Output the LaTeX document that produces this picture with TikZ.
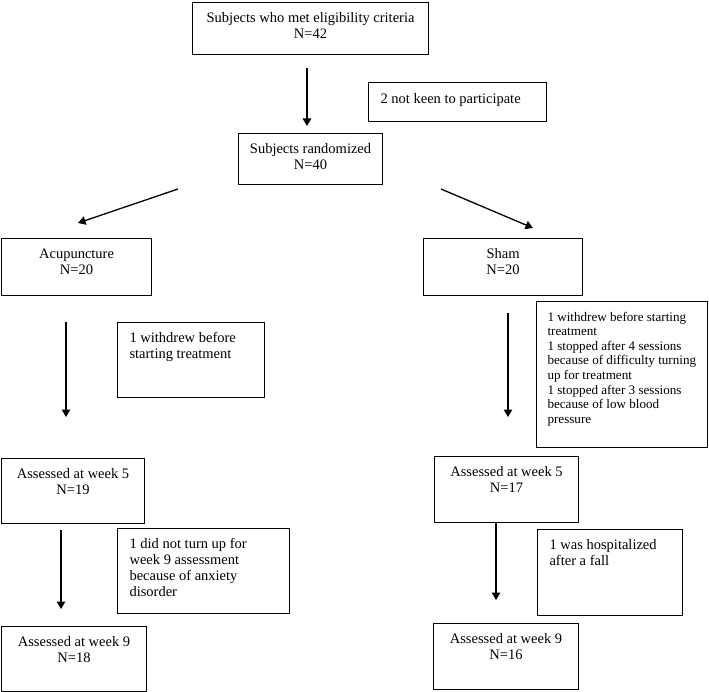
\documentclass[tikz,border=0pt]{standalone}
\usepackage{fontspec}
\setmainfont{Liberation Serif}
\usetikzlibrary{arrows.meta}
\tikzset{
  flowbox/.style={draw=black, line width=1.1pt, inner sep=0pt, anchor=north west},
  arr/.style={line width=1.3pt, -{Triangle[length=7.5pt,width=8.5pt]}},
}
% centred text, top aligned: width, height, text
\newcommand{\ctext}[3]{\parbox[c][#2][t]{#1}{\centering\fontsize{14.5}{16.8}\selectfont\rule{0pt}{19.5pt}#3}}
% left text, top aligned: width, height, first baseline, text
\newcommand{\ltext}[4]{\parbox[c][#2][t]{#1}{\raggedright\leftskip=12pt\fontsize{14.5}{16.3}\selectfont\rule{0pt}{#3}#4}}
\newcommand{\stext}[4]{\parbox[c][#2][t]{#1}{\raggedright\leftskip=11pt\fontsize{13.1}{14.6}\selectfont\rule{0pt}{#3}#4}}
\begin{document}
\begin{tikzpicture}[x=1pt,y=-1pt]
\useasboundingbox (0,0) rectangle (709,692);
% main boxes
\node[flowbox] (top) at (192,2) {\ctext{236pt}{52pt}{Subjects who met eligibility criteria\\N=42}};
\node[flowbox] (notkeen) at (368,82) {\ltext{178pt}{39pt}{20.5pt}{2 not keen to participate}};
\node[flowbox] (rand) at (238,133) {\ctext{144pt}{51pt}{Subjects randomized\\N=40}};
\node[flowbox] (acu) at (1,238) {\ctext{150pt}{57pt}{Acupuncture\\N=20}};
\node[flowbox] (sham) at (423,238) {\ctext{159pt}{57pt}{Sham\\N=20}};
\node[flowbox] (acuside) at (117,322) {\ltext{147pt}{75pt}{19.5pt}{1 withdrew before\\starting treatment}};
\node[flowbox] (shamside) at (536,301) {\stext{171pt}{146pt}{19.5pt}{1 withdrew before starting\\treatment\\1 stopped after 4 sessions\\because of difficulty turning\\up for treatment\\1 stopped after 3 sessions\\because of low blood\\pressure}};
\node[flowbox] (acuw5) at (1,458) {\ctext{143pt}{65pt}{Assessed at week 5\\N=19}};
\node[flowbox] (shw5) at (434,456) {\ctext{144pt}{66pt}{Assessed at week 5\\N=17}};
\node[flowbox] (acuside2) at (117,528) {\ltext{172pt}{85pt}{19.5pt}{1 did not turn up for\\week 9 assessment\\because of anxiety\\disorder}};
\node[flowbox] (shside2) at (537,529) {\ltext{145pt}{86pt}{19.5pt}{1 was hospitalized\\after a fall}};
\node[flowbox] (acuw9) at (1,626) {\ctext{145pt}{65pt}{Assessed at week 9\\N=18}};
\node[flowbox] (shw9) at (433,623) {\ctext{145pt}{66pt}{Assessed at week 9\\N=16}};
% arrow end points
\coordinate (a1s) at (307,68);
\coordinate (a1e) at (307,126);
\coordinate (dls) at (178,189);
\coordinate (dle) at (78,223);
\coordinate (drs) at (441,189);
\coordinate (dre) at (533,228);
\coordinate (a2s) at (66,322);
\coordinate (a2e) at (66,417);
\coordinate (a3s) at (508,313);
\coordinate (a3e) at (508,417);
\coordinate (a4s) at (61,530);
\coordinate (a4e) at (61,609);
\coordinate (a5e) at (496,600);
% arrows
\draw[arr] (a1s) -- (a1e);
\draw[arr] (dls) -- (dle);
\draw[arr] (drs) -- (dre);
\draw[arr] (a2s) -- (a2e);
\draw[arr] (a3s) -- (a3e);
\draw[arr] (a4s) -- (a4e);
\draw[arr] (shw5.south -| a5e) -- (a5e);
\end{tikzpicture}
\end{document}
